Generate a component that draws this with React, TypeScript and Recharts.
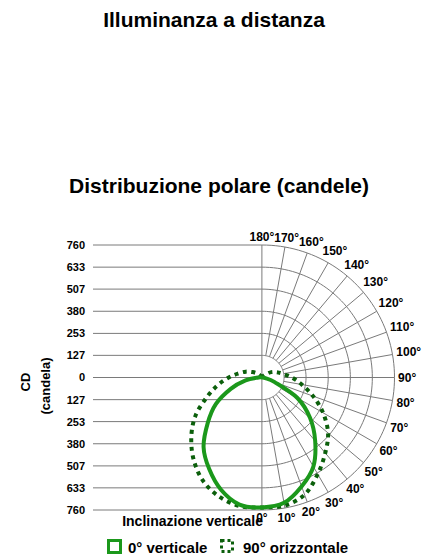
import React from 'react';
import { ComposedChart, Line, XAxis, YAxis, Scatter } from 'recharts';

const FONT = 'Arial, "Liberation Sans", sans-serif';

// radial rings (candela) = Y tick labels
const ringValues = [127, 253, 380, 507, 633, 760];
const leftExtent = -968;
const maxValue = 760;

// angle grid / labels
const gridAngles = [10, 20, 30, 40, 50, 60, 70, 80, 90, 100, 110, 120, 130, 140, 150, 160, 170];
const labelAngles = [0, 10, 20, 30, 40, 50, 60, 70, 80, 90, 100, 110, 120, 130, 140, 150, 160, 170, 180];
const labelTexts = ['0°', '10°', '20°', '30°', '40°', '50°', '60°', '70°', '80°', '90°', '100°', '110°', '120°', '130°', '140°', '150°', '160°', '170°', '180°'];

// photometric data (candela) per angle
const curveAngles = [0, 10, 20, 30, 40, 50, 60, 70, 80, 90, 100, 110, 120, 130, 140, 150, 160, 170, 180];
const verticalLeft = [745, 740, 685, 605, 520, 405, 305, 190, 95, 20, 0, 0, 0, 0, 0, 0, 0, 0, 0];
const verticalRight = [745, 730, 665, 590, 475, 360, 235, 78, 20, 0, 0, 0, 0, 0, 0, 0, 0, 0, 0];
const horizontalLeft = [745, 748, 725, 680, 610, 528, 440, 338, 258, 190, 135, 98, 62, 36, 15, 0, 0, 0, 0];
const horizontalRight = [745, 746, 715, 640, 565, 495, 405, 312, 232, 172, 122, 90, 62, 30, 10, 0, 0, 0, 0];

const rad = (d: number) => (d * Math.PI) / 180;
const pt = (r: number, deg: number, side: number) => ({
  x: side * r * Math.sin(rad(deg)),
  y: -r * Math.cos(rad(deg)),
});

function lastNonZero(arr: number[]) {
  let k = 0;
  arr.forEach((v, i) => {
    if (v > 0) k = i;
  });
  return Math.min(k + 1, arr.length - 1);
}

function buildCurve(left: number[], right: number[]) {
  const pts: { x: number; y: number }[] = [];
  const l = lastNonZero(left);
  for (let i = l; i >= 0; i--) pts.push(pt(left[i], curveAngles[i], -1));
  const r = lastNonZero(right);
  for (let i = 1; i <= r; i++) pts.push(pt(right[i], curveAngles[i], 1));
  return pts;
}

const verticalCurve = buildCurve(verticalLeft, verticalRight);
const horizontalCurve = buildCurve(horizontalLeft, horizontalRight);

const ringData = ringValues.map((r) => {
  const arr: { x: number; y: number }[] = [];
  for (let a = 0; a <= 180; a += 2) arr.push(pt(r, a, 1));
  return arr;
});
const radialData = gridAngles.map((a) => [pt(ringValues[0], a, 1), pt(maxValue, a, 1)]);
const yTicks = [...ringValues.map((v) => -v).reverse(), 0, ...ringValues];
const hLineData = yTicks.map((v) => [
  { x: leftExtent, y: v },
  { x: 0, y: v },
]);
const vAxisData = [
  { x: 0, y: -maxValue },
  { x: 0, y: maxValue },
];
const labelBase = 700;
const labelData = labelAngles.map((a, i) => ({ ...pt(labelBase, a, 1), angle: a, text: labelTexts[i] }));

const GRID = '#7a7a7a';
const SOLID = '#1b981b';
const DOTTED = '#0b5f0b';

// smooth curve through the points (Catmull-Rom), drawn by the chart's line generator
function smoothCurve(context: any) {
  let pts: number[][] = [];
  return {
    areaStart() {},
    areaEnd() {},
    lineStart() {
      pts = [];
    },
    point(x: number, y: number) {
      pts.push([+x, +y]);
    },
    lineEnd() {
      if (!pts.length) return;
      context.moveTo(pts[0][0], pts[0][1]);
      for (let i = 0; i < pts.length - 1; i++) {
        const p0 = pts[i - 1] || pts[i];
        const p1 = pts[i];
        const p2 = pts[i + 1];
        const p3 = pts[i + 2] || p2;
        context.bezierCurveTo(
          p1[0] + (p2[0] - p0[0]) / 6,
          p1[1] + (p2[1] - p0[1]) / 6,
          p2[0] - (p3[0] - p1[0]) / 6,
          p2[1] - (p3[1] - p1[1]) / 6,
          p2[0],
          p2[1]
        );
      }
    },
  };
}

const AngleLabel = (props: any) => {
  const { cx, cy, payload } = props;
  if (cx == null || cy == null) return null;
  const fs = 12;
  const w = payload.text.length * 0.556 * fs - 0.15 * fs;
  const h = 0.72 * fs;
  const s = Math.sin(rad(payload.angle));
  const c = Math.cos(rad(payload.angle));
  const off = 14 + (w / 2) * Math.abs(s) + (h / 2) * Math.abs(c);
  const x = cx + s * off;
  const y = cy + c * off;
  return (
    <text x={x} y={y + h / 2} textAnchor="middle" fontSize={fs} fontWeight="bold" fontFamily={FONT} fill="#000">
      {payload.text}
    </text>
  );
};

export default function App() {
  return (
    <div style={{ position: 'absolute', left: 0, top: 0, width: 431, height: 557, background: '#fff' }}>
      <ComposedChart width={431} height={557} margin={{ top: 245, bottom: 47, left: 33, right: 36.5 }}>
        <XAxis type="number" dataKey="x" domain={[leftExtent, maxValue]} hide />
        <YAxis
          type="number"
          dataKey="y"
          domain={[-maxValue, maxValue]}
          ticks={yTicks}
          interval={0}
          width={60}
          axisLine={false}
          tickLine={false}
          tickFormatter={(v: number) => String(Math.abs(v))}
          tick={{ fontSize: 11, fontWeight: 'bold', fill: '#000', fontFamily: FONT }}
        />
        {hLineData.map((d, i) => (
          <Line key={'h' + i} data={d} dataKey="y" type="linear" stroke={GRID} strokeWidth={1} dot={false} activeDot={false} isAnimationActive={false} />
        ))}
        {ringData.map((d, i) => (
          <Line key={'r' + i} data={d} dataKey="y" type="linear" stroke={GRID} strokeWidth={1} dot={false} activeDot={false} isAnimationActive={false} />
        ))}
        {radialData.map((d, i) => (
          <Line key={'a' + i} data={d} dataKey="y" type="linear" stroke={GRID} strokeWidth={1} dot={false} activeDot={false} isAnimationActive={false} />
        ))}
        <Line data={vAxisData} dataKey="y" type="linear" stroke={GRID} strokeWidth={1} dot={false} activeDot={false} isAnimationActive={false} />
        <Line
          data={horizontalCurve}
          dataKey="y"
          type={smoothCurve as any}
          stroke={DOTTED}
          strokeWidth={4}
          strokeDasharray="4 4.5"
          dot={false}
          activeDot={false}
          isAnimationActive={false}
        />
        <Line
          data={verticalCurve}
          dataKey="y"
          type={smoothCurve as any}
          stroke={SOLID}
          strokeWidth={4}
          dot={false}
          activeDot={false}
          isAnimationActive={false}
        />
        <Scatter data={labelData} dataKey="y" shape={AngleLabel} isAnimationActive={false} />
      </ComposedChart>
      <svg width={431} height={557} style={{ position: 'absolute', left: 0, top: 0, pointerEvents: 'none' }}>
        <g fontFamily={FONT} fontWeight="bold" fill="#000">
          <text x={214} y={27} fontSize={21} textAnchor="middle">Illuminanza a distanza</text>
          <text x={219} y={193} fontSize={21} textAnchor="middle">Distribuzione polare (candele)</text>
          <text transform="translate(30,382) rotate(-90)" fontSize={13} textAnchor="middle">CD</text>
          <text transform="translate(50,386) rotate(-90)" fontSize={13} textAnchor="middle">(candela)</text>
          <text x={263} y={525.5} fontSize={14} textAnchor="end">Inclinazione verticale</text>
          <rect x={108.5} y={540.5} width={12} height={12} fill="none" stroke={SOLID} strokeWidth={3} />
          <text x={128} y={553} fontSize={15}>0° verticale</text>
          <rect x={221.5} y={540.5} width={11} height={11} fill="none" stroke={DOTTED} strokeWidth={3} strokeDasharray="3 3" />
          <text x={243} y={553} fontSize={15}>90° orizzontale</text>
        </g>
      </svg>
    </div>
  );
}
